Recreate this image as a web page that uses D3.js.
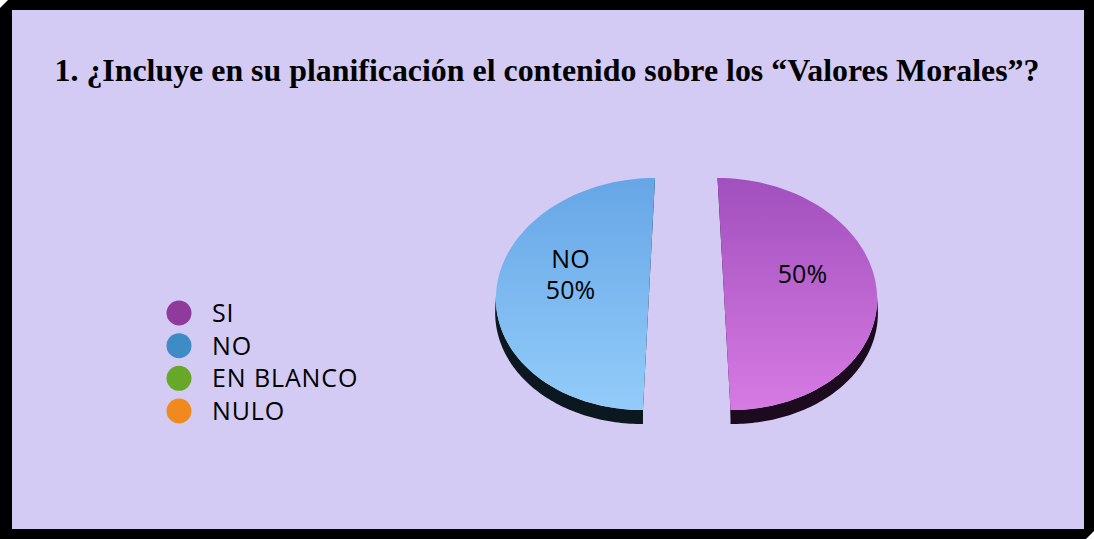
<!DOCTYPE html>
<html><head><meta charset="utf-8">
<script src="https://cdn.jsdelivr.net/npm/d3@7"></script>
<style>html,body{margin:0;padding:0;background:#fff;overflow:hidden}</style>
</head><body>
<svg id="c" width="1094" height="539"></svg>
<script>
const categories = ["SI", "NO", "EN BLANCO", "NULO"];
const values = [50, 50, 0, 0];
const sliceLabels = ["50%", "NO\n50%", "", ""];
const colors = ["#8e3b9c", "#3f8bc6", "#68a829", "#f08a1e"];
const title = "1. ¿Incluye en su planificación el contenido sobre los “Valores Morales”?";

const svg = d3.select("#c");
const W = 1094, H = 539;

// frame
svg.append("path").attr("d", `M8,0 L${W},0 L${W},${H-8} L${W-8},${H} L0,${H} L0,8 Z`).attr("fill", "#000");
svg.append("rect").attr("x", 12).attr("y", 10).attr("width", 1072).attr("height", 519).attr("fill", "#d3cbf4");

svg.append("text").attr("x", 547).attr("y", 81).attr("text-anchor", "middle")
  .attr("font-family", "Liberation Serif, Times New Roman, serif").attr("font-weight", "bold")
  .attr("font-size", 31.5).attr("textLength", 985).attr("lengthAdjust", "spacingAndGlyphs")
  .attr("fill", "#000").text(title);

const defs = svg.append("defs");
const grads = [
  {id: "g0", top: "#a150bd", bot: "#d77ae3"},
  {id: "g1", top: "#66a6e6", bot: "#93ccfa"}
];
grads.forEach(g => {
  const lg = defs.append("linearGradient").attr("id", g.id).attr("x1", 0).attr("y1", 0).attr("x2", 0).attr("y2", 1);
  lg.append("stop").attr("offset", "0%").attr("stop-color", g.top);
  lg.append("stop").attr("offset", "100%").attr("stop-color", g.bot);
});
const sideColors = ["#1c0a1e", "#0c1820"];

const cx = 686.5, cy = 294, rx = 153, ry = 116, depth = 14, explode = 37.5;
const skew = [0.056, -0.052];

const pie = d3.pie().sort(null).startAngle(0).endAngle(2 * Math.PI)(values);

function pt(a, r, i, ox, dy) {
  const x0 = ox + rx * r * Math.sin(a);
  const y = cy - ry * r * Math.cos(a) + (dy || 0);
  return [x0 + skew[i] * (y - cy), y];
}

const g = svg.append("g");
pie.forEach((p, i) => {
  if (p.endAngle - p.startAngle <= 0) return;
  const mid = (p.startAngle + p.endAngle) / 2;
  const ox = cx + explode * Math.sin(mid);
  const N = 80;
  const a0 = Math.max(p.startAngle, Math.PI / 2), a1 = Math.min(p.endAngle, 3 * Math.PI / 2);
  if (a1 > a0) {
    const top = d3.range(N + 1).map(k => pt(a0 + (a1 - a0) * k / N, 1, i, ox, 0));
    const bot = d3.range(N + 1).map(k => pt(a1 - (a1 - a0) * k / N, 1, i, ox, depth));
    g.append("path").attr("d", d3.line()(top.concat(bot)) + "Z").attr("fill", sideColors[i]);
  }
  // cut face
  const pTop = pt(0, 1, i, ox), pBot = pt(Math.PI, 1, i, ox);
  const dir = i === 0 ? 1 : -1;
  g.append("path").attr("d", d3.line()([
    [pTop[0], pTop[1]], [pBot[0], pBot[1]], [pBot[0], pBot[1] + depth],
    [pBot[0] + dir * 3, pBot[1] + depth], [pTop[0] + dir * 2, pTop[1] + 2]
  ]) + "Z").attr("fill", sideColors[i]);
  // top face
  const arcPts = [pt(0, 0, i, ox)].concat(d3.range(N + 1).map(k => pt(p.startAngle + (p.endAngle - p.startAngle) * k / N, 1, i, ox)));
  g.append("path").attr("d", d3.line()(arcPts) + "Z").attr("fill", `url(#${grads[i].id})`);
  // label
  const lp = pt(mid, 0.52, i, ox, -20);
  const lines = sliceLabels[i].split("\n");
  const t = g.append("text").attr("x", lp[0]).attr("y", lp[1]).attr("text-anchor", "middle")
    .attr("font-family", "Open Sans, sans-serif").attr("font-size", 25).attr("fill", "#000");
  lines.forEach((l, k) => {
    t.append("tspan").attr("x", lp[0]).attr("dy", k === 0 ? ((1 - lines.length) * 0.62 + 0.36) + "em" : "1.24em").text(l);
  });
});

// legend
const ly = d3.scalePoint().domain(categories).range([313, 411]);
const leg = svg.append("g");
categories.forEach((c, i) => {
  leg.append("circle").attr("cx", 179).attr("cy", ly(c)).attr("r", 12.5).attr("fill", colors[i]);
  leg.append("text").attr("x", 212).attr("y", ly(c)).attr("dy", "0.36em")
    .attr("font-family", "Open Sans, sans-serif").attr("font-size", 25).attr("letter-spacing", 0.9)
    .attr("fill", "#000").text(c);
});
</script>
</body></html>
